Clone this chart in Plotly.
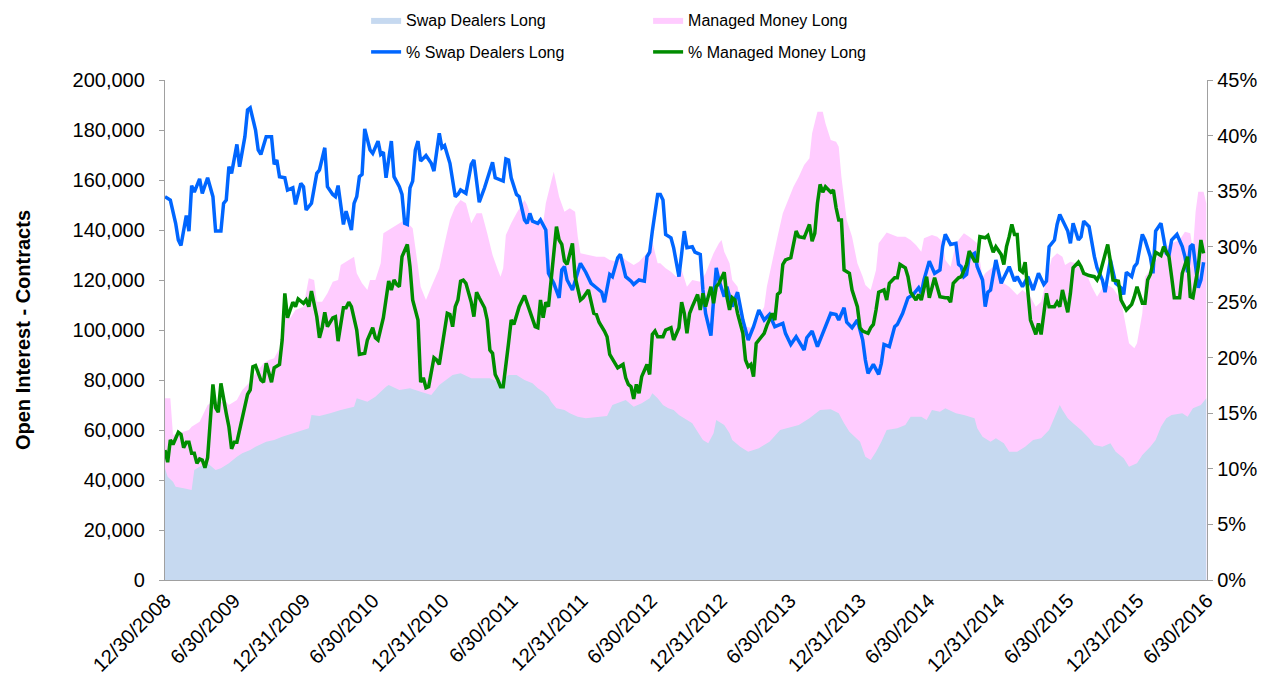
import datetime as dt
import plotly.graph_objects as go

# ---- data (week index from 12/30/2008, value) ----
START = dt.date(2008, 12, 30)

swap_long_k = [
(0,44.7),(1,41.3),(3,39.3),(4,37.3),(7,36.7),(10,36.0),(11,44.0),(13,45.3),(16,46.7),(19,44.0),(21,44.7),(24,46.7),(27,49.3),(29,50.7),(32,52.0),(34,53.3),(38,55.3),(41,56.0),(44,57.3),(48,58.7),(52,60.0),(54,60.7),(55,66.0),(58,65.6),(62,66.7),(66,68.0),(71,69.3),(72,72.7),(76,71.3),(79,73.3),(83,77.3),(84,78.0),(88,76.0),(92,76.7),(96,75.3),(100,74.0),(103,78.0),(108,82.0),(111,82.7),(115,80.7),(118,80.7),(122,80.7),(125,79.3),(126,79.3),(129,82.0),(132,82.0),(135,80.0),(138,78.7),(140,76.7),(142,75.3),(144,73.3),(145,71.3),(147,68.7),(150,68.0),(152,66.7),(155,65.3),(158,64.7),(162,65.1),(166,65.6),(168,70.0),(171,71.3),(173,72.0),(176,69.3),(179,70.7),(182,72.7),(183,74.7),(185,72.7),(187,70.0),(189,68.7),(191,68.0),(193,66.0),(196,64.0),(198,62.7),(200,59.3),(202,56.0),(204,54.7),(206,58.7),(207,64.0),(210,62.0),(212,58.7),(213,56.0),(216,53.3),(219,51.3),(223,52.7),(227,55.3),(231,60.0),(235,61.3),(238,62.0),(242,64.7),(246,68.0),(250,68.3),(253,66.7),(255,62.7),(257,59.3),(259,57.3),(261,55.3),(263,49.3),(265,48.0),(267,51.3),(269,55.3),(271,60.0),(275,60.7),(278,62.0),(280,65.3),(284,65.3),(286,64.0),(288,68.0),(291,67.3),(293,68.7),(297,66.7),(300,66.0),(304,64.7),(305,60.7),(307,57.3),(310,55.3),(312,56.7),(315,54.7),(317,51.3),(320,51.3),(323,53.3),(326,56.0),(329,56.7),(332,60.0),(334,64.7),(336,70.0),(337,68.0),(339,64.7),(341,62.7),(344,60.0),(347,56.7),(349,54.0),(352,53.3),(355,54.7),(357,51.3),(360,48.7),(362,45.3),(365,46.7),(367,50.0),(370,53.3),(372,56.0),(374,61.3),(376,64.7),(378,66.0),(382,66.7),(384,65.3),(386,68.7),(389,70.0),(391,72.7)]

# top of the managed-money band (thousand contracts)
managed_long_top_k = [
(0,72.7),(2,72.7),(3,58.0),(9,60.0),(10,61.3),(13,63.3),(16,70.0),(18,71.3),(23,71.3),(24,70.0),(27,72.0),(29,76.0),(32,79.3),(34,82.7),(37,86.7),(39,88.0),(41,88.7),(43,92.7),(44,101.3),(45,106.7),(47,104.7),(49,108.0),(52,109.3),(54,120.7),(56,120.0),(57,111.3),(59,111.3),(61,114.7),(63,119.3),(65,120.0),(66,126.0),(68,127.3),(71,129.3),(72,122.7),(74,118.7),(76,116.0),(77,120.0),(79,120.0),(81,126.7),(82,138.7),(84,140.0),(88,142.7),(90,144.0),(93,140.7),(94,132.0),(95,125.3),(96,117.3),(98,112.0),(100,117.3),(101,120.0),(103,124.7),(105,134.7),(107,144.0),(109,149.3),(111,152.0),(113,150.7),(115,142.7),(117,146.7),(119,146.7),(121,138.7),(123,130.0),(125,124.0),(126,121.3),(127,124.7),(128,138.0),(130,142.7),(132,146.7),(135,152.0),(136,150.0),(138,144.0),(140,142.7),(142,142.7),(143,150.7),(145,159.3),(146,163.3),(148,153.3),(150,147.3),(152,148.7),(154,147.3),(155,137.3),(156,130.7),(159,130.0),(162,129.3),(165,129.3),(167,128.0),(170,127.3),(171,130.0),(173,128.0),(176,126.0),(178,127.3),(181,130.7),(183,135.3),(185,126.7),(186,126.7),(188,124.7),(190,123.3),(192,121.3),(194,124.0),(196,117.3),(198,120.0),(201,119.3),(203,122.7),(206,130.7),(208,134.7),(209,136.0),(210,131.3),(212,126.7),(213,120.0),(215,117.3),(217,106.7),(218,101.3),(221,100.7),(223,105.3),(225,109.3),(226,117.3),(228,128.0),(230,137.3),(232,146.7),(234,152.0),(236,157.3),(238,161.3),(240,166.0),(242,168.7),(243,178.7),(245,187.3),(247,187.3),(248,182.7),(250,176.0),(252,175.3),(253,173.3),(254,161.3),(256,144.0),(258,137.3),(260,126.7),(262,121.3),(263,118.0),(265,116.0),(267,124.0),(268,134.7),(270,137.3),(271,139.0),(275,137.3),(278,137.3),(280,136.0),(282,134.0),(284,131.3),(285,136.7),(288,138.0),(290,137.3),(292,135.3),(293,128.0),(295,125.3),(297,134.7),(300,138.7),(302,137.3),(305,134.7),(307,121.0),(308,122.7),(311,125.3),(313,124.0),(315,118.7),(317,117.3),(320,114.0),(322,116.0),(325,113.3),(327,109.3),(329,111.3),(331,120.0),(333,128.7),(335,130.7),(337,129.3),(338,126.0),(340,127.3),(342,126.7),(344,124.0),(346,122.7),(348,117.3),(350,113.3),(352,116.7),(354,118.0),(356,116.7),(359,112.0),(360,106.7),(362,94.7),(364,92.7),(365,94.7),(367,106.7),(368,121.3),(371,125.3),(374,132.0),(376,133.3),(378,134.7),(381,136.0),(383,139.3),(385,138.7),(386,132.0),(387,147.3),(388,155.3),(390,155.3),(391,150.7)]

pct_swap_long = [
(0,34.5),(2,34.2),(4,32.1),(5,30.6),(6,30.1),(8,32.8),(9,31.4),(10,35.5),(11,34.9),(13,36.1),(14,34.8),(16,36.2),(18,34.5),(19,31.4),(21,31.4),(22,33.9),(23,34.2),(24,37.2),(25,36.6),(27,39.2),(28,37.2),(30,39.9),(31,42.3),(32,42.5),(34,40.5),(35,38.7),(36,38.3),(38,39.9),(40,39.9),(41,37.4),(42,37.8),(43,36.3),(45,36.2),(46,35.1),(48,35.3),(49,33.8),(51,35.7),(52,35.4),(53,33.3),(55,33.9),(57,36.6),(58,36.9),(60,38.9),(61,35.4),(63,34.7),(64,34.5),(65,35.5),(67,32.0),(68,33.2),(70,31.5),(71,33.9),(72,34.5),(73,36.3),(74,36.5),(75,40.6),(77,38.7),(78,38.4),(80,39.5),(81,38.3),(82,38.5),(83,36.2),(85,39.5),(86,36.3),(88,35.4),(89,34.7),(90,32.1),(91,32.0),(92,35.3),(93,35.9),(94,38.7),(95,39.5),(96,37.7),(98,38.2),(100,37.5),(101,36.8),(103,40.2),(104,38.9),(105,39.1),(107,37.5),(109,34.5),(110,34.7),(111,35.1),(113,34.8),(115,37.4),(116,37.8),(118,34.0),(120,35.3),(121,36.0),(123,37.6),(124,36.2),(126,36.0),(127,35.9),(128,37.9),(129,37.8),(130,36.2),(132,34.7),(133,34.5),(135,32.4),(136,32.1),(137,33.0),(138,32.3),(140,32.1),(141,32.4),(143,31.5),(144,27.6),(146,26.7),(148,25.4),(149,27.9),(150,28.2),(151,27.0),(153,26.1),(155,27.6),(156,28.5),(158,27.7),(160,26.7),(162,26.3),(164,25.9),(165,25.0),(167,27.5),(168,27.3),(170,29.0),(171,29.3),(173,27.3),(175,26.9),(176,26.6),(178,27.0),(180,26.9),(181,29.1),(182,29.5),(183,31.4),(185,34.7),(186,34.7),(187,34.2),(188,31.1),(190,30.8),(191,29.9),(193,27.3),(195,31.4),(196,29.9),(198,30.0),(199,29.5),(201,29.3),(202,26.1),(203,24.0),(205,22.0),(206,25.2),(207,28.1),(208,27.0),(210,25.5),(211,26.4),(213,24.6),(215,25.9),(217,23.4),(219,21.6),(221,22.8),(223,24.3),(225,23.4),(227,23.9),(229,22.8),(232,23.1),(233,22.2),(235,21.2),(237,21.9),(238,21.5),(240,20.7),(241,21.8),(243,22.4),(245,21.0),(247,22.2),(248,22.8),(250,24.0),(252,23.9),(253,23.4),(255,24.5),(256,23.2),(258,22.7),(260,23.4),(262,21.6),(263,19.8),(264,18.6),(266,19.4),(268,18.5),(269,19.5),(270,21.2),(272,21.0),(274,22.8),(275,23.0),(277,24.0),(278,24.6),(279,25.4),(281,25.7),(283,26.3),(284,25.8),(285,27.0),(287,28.7),(288,28.2),(289,27.6),(291,27.9),(292,30.0),(293,31.1),(295,30.2),(297,30.3),(298,28.4),(299,28.2),(300,27.3),(301,27.5),(302,29.1),(304,29.4),(305,28.2),(307,27.0),(308,24.6),(309,25.9),(310,26.1),(312,28.8),(313,27.9),(314,26.7),(317,28.2),(319,26.9),(320,27.3),(322,26.4),(324,27.3),(326,26.1),(328,27.6),(330,26.6),(331,26.9),(332,30.0),(334,30.6),(335,32.0),(336,32.9),(338,31.8),(339,31.4),(340,30.3),(341,32.1),(343,30.6),(344,30.9),(345,32.3),(347,31.8),(349,29.1),(350,28.1),(352,27.0),(353,25.9),(355,28.8),(357,26.7),(359,26.3),(360,25.7),(361,27.7),(363,27.3),(364,28.2),(365,28.5),(367,31.1),(368,30.6),(370,29.1),(371,27.6),(372,31.4),(374,32.1),(376,29.4),(377,29.2),(378,30.6),(380,31.1),(382,30.0),(383,29.1),(384,27.7),(385,30.0),(386,30.2),(388,26.3),(389,27.0),(390,28.6)]

pct_managed_long = [
(0,11.7),(1,10.6),(2,12.6),(3,12.2),(5,13.3),(6,13.1),(7,11.9),(8,12.4),(9,12.4),(10,11.4),(11,11.4),(12,10.5),(13,10.9),(14,10.8),(15,10.1),(16,11.0),(18,17.6),(19,15.5),(20,15.1),(21,17.7),(23,15.0),(24,13.8),(25,11.8),(26,12.4),(27,12.4),(28,13.5),(29,14.7),(31,16.7),(32,17.1),(33,19.2),(34,19.3),(36,18.0),(37,17.8),(38,19.5),(40,17.8),(41,19.1),(43,19.4),(44,21.6),(45,25.8),(46,23.6),(47,24.3),(48,25.0),(49,24.6),(50,25.3),(52,24.9),(53,25.2),(54,24.6),(55,26.0),(57,23.7),(58,21.8),(59,22.7),(60,24.1),(61,22.8),(63,23.6),(64,23.7),(65,21.5),(67,24.5),(68,24.5),(69,25.0),(70,24.6),(72,22.5),(73,20.3),(75,20.4),(76,21.6),(78,22.7),(79,21.8),(80,21.6),(82,23.6),(84,26.9),(85,26.1),(86,27.0),(87,26.6),(88,26.4),(89,29.1),(91,30.2),(92,28.2),(93,25.2),(95,23.4),(96,17.8),(97,18.2),(98,17.3),(99,17.4),(101,20.0),(102,19.8),(103,19.4),(104,21.0),(105,22.2),(106,24.0),(107,23.9),(108,22.8),(109,24.6),(110,25.2),(111,26.9),(112,27.0),(113,26.7),(115,25.0),(116,23.7),(117,25.9),(118,25.4),(120,24.5),(121,23.4),(122,20.7),(123,20.4),(124,18.5),(125,18.0),(126,17.4),(127,17.4),(128,19.2),(129,21.3),(130,23.4),(131,23.0),(133,24.6),(135,25.6),(136,24.9),(138,23.6),(139,22.8),(140,22.7),(141,25.2),(142,23.6),(143,25.0),(144,24.6),(145,27.0),(147,31.8),(148,30.6),(149,30.2),(150,28.7),(151,28.4),(153,30.3),(154,27.3),(156,25.2),(157,25.4),(159,26.1),(160,25.2),(161,24.0),(162,23.9),(163,23.2),(165,22.4),(166,21.9),(167,20.3),(169,19.4),(170,19.1),(172,19.4),(173,18.2),(174,17.6),(175,17.4),(176,16.3),(177,17.6),(178,16.8),(179,18.3),(181,19.4),(182,18.5),(183,22.1),(184,22.4),(185,21.9),(187,21.9),(188,22.5),(190,22.7),(191,21.6),(193,22.7),(194,25.0),(195,24.0),(196,22.2),(197,24.0),(198,24.6),(200,25.7),(201,24.3),(202,25.8),(203,24.6),(205,26.4),(206,24.9),(207,26.4),(208,26.7),(210,27.7),(211,25.5),(212,24.3),(213,25.4),(214,25.2),(215,24.0),(217,22.2),(218,19.8),(219,19.2),(220,19.4),(221,18.3),(222,21.3),(224,21.9),(225,22.2),(226,22.9),(228,24.0),(229,23.4),(230,25.7),(231,25.9),(232,28.4),(233,28.8),(235,29.0),(237,31.4),(238,30.9),(240,30.8),(242,32.0),(243,30.5),(244,31.2),(245,33.9),(246,35.6),(247,34.9),(248,35.4),(250,34.9),(251,35.1),(252,33.5),(253,32.4),(254,32.4),(255,27.9),(257,27.6),(258,26.1),(260,24.6),(261,22.7),(262,22.4),(264,22.2),(265,22.7),(266,23.0),(267,24.3),(268,25.9),(270,26.1),(271,25.2),(272,26.7),(274,27.2),(275,27.2),(276,28.4),(278,28.1),(279,27.3),(280,25.9),(282,25.2),(283,25.7),(284,25.2),(286,27.3),(287,25.4),(289,27.2),(291,25.5),(293,25.4),(294,25.4),(295,25.0),(296,26.7),(298,27.2),(299,27.3),(301,28.4),(302,29.6),(304,28.7),(305,28.7),(306,30.9),(308,30.8),(309,31.0),(310,30.3),(311,29.5),(312,30.0),(314,29.3),(315,28.4),(316,30.0),(317,30.9),(318,32.0),(319,31.1),(320,31.1),(321,27.9),(322,27.7),(323,28.6),(324,26.1),(325,23.4),(327,22.1),(328,23.1),(329,22.1),(330,24.0),(331,25.8),(332,24.6),(334,24.6),(335,25.0),(336,24.6),(337,26.1),(338,25.0),(339,24.1),(340,25.8),(341,28.1),(343,28.6),(344,28.2),(345,27.6),(347,27.4),(349,27.3),(350,27.0),(351,27.5),(352,28.4),(354,30.2),(355,28.7),(356,27.0),(358,26.9),(359,25.2),(361,24.3),(363,24.8),(364,25.5),(365,26.4),(367,24.9),(368,24.9),(369,27.0),(370,27.5),(372,29.5),(374,29.2),(375,30.0),(377,29.1),(378,27.3),(379,25.4),(381,25.4),(382,27.6),(384,29.1),(385,25.5),(386,25.4),(388,28.2),(389,30.6),(390,29.4)]

tick_dates = ["2008-12-30", "2009-06-30", "2009-12-31", "2010-06-30", "2010-12-31",
              "2011-06-30", "2011-12-31", "2012-06-30", "2012-12-31", "2013-06-30",
              "2013-12-31", "2014-06-30", "2014-12-31", "2015-06-30", "2015-12-31",
              "2016-06-30"]
tick_text = ["12/30/2008", "6/30/2009", "12/31/2009", "6/30/2010", "12/31/2010",
             "6/30/2011", "12/31/2011", "6/30/2012", "12/31/2012", "6/30/2013",
             "12/31/2013", "6/30/2014", "12/31/2014", "6/30/2015", "12/31/2015",
             "6/30/2016"]


def split(pts, scale=1.0):
    xs = [START + dt.timedelta(days=7 * w) for w, _ in pts]
    ys = [v * scale for _, v in pts]
    return xs, ys


FONT = "Liberation Sans, Arial, sans-serif"
AXIS_COL = "#A0A0A0"

fig = go.Figure()

x, y = split(managed_long_top_k, 1000)
fig.add_trace(go.Scatter(x=x, y=y, name="Managed Money Long", mode="lines",
                         line=dict(width=0, color="#FFCCFF"), fill="tozeroy",
                         fillcolor="#FFCCFF", legend="legend", legendrank=2))
x, y = split(swap_long_k, 1000)
fig.add_trace(go.Scatter(x=x, y=y, name="Swap Dealers Long", mode="lines",
                         line=dict(width=0, color="#C6D9F0"), fill="tozeroy",
                         fillcolor="#C6D9F0", legend="legend", legendrank=1))
x, y = split(pct_swap_long)
fig.add_trace(go.Scatter(x=x, y=y, name="% Swap Dealers Long", mode="lines",
                         line=dict(width=3.5, color="#0066FF"), yaxis="y2",
                         legend="legend2", legendrank=1))
x, y = split(pct_managed_long)
fig.add_trace(go.Scatter(x=x, y=y, name="% Managed Money Long", mode="lines",
                         line=dict(width=3.5, color="#008C00"), yaxis="y2",
                         legend="legend2", legendrank=2))

leg_common = dict(orientation="h", xanchor="left", yanchor="middle",
                  font=dict(family=FONT, size=16, color="#000000"),
                  entrywidth=237, entrywidthmode="pixels",
                  bgcolor="rgba(0,0,0,0)", traceorder="normal")

fig.update_layout(
    width=1279, height=686,
    margin=dict(l=157, r=80, t=72, b=114, autoexpand=False),
    paper_bgcolor="white", plot_bgcolor="white",
    font=dict(family=FONT, size=20, color="#000000"),
    legend=dict(x=0.193, y=1.12, **leg_common),
    legend2=dict(x=0.193, y=1.056, **leg_common),
    xaxis=dict(type="date", range=["2008-12-30", "2016-06-30"],
               tickmode="array", tickvals=tick_dates, ticktext=tick_text,
               tickangle=-45, showgrid=False, zeroline=False,
               showline=True, linecolor=AXIS_COL, linewidth=1.3,
               ticks="", tickfont=dict(size=20), automargin=False),
    yaxis=dict(range=[0, 200000], dtick=20000, tickformat=",", showgrid=False,
               zeroline=False, showline=True, linecolor=AXIS_COL, linewidth=1.3,
               ticks="outside", ticklen=5, tickcolor=AXIS_COL,
               ticklabelstandoff=10, tickfont=dict(size=20),
               title=dict(text="Open Interest - Contracts", standoff=36,
                          font=dict(size=20, weight="bold")),
               automargin=False),
    yaxis2=dict(range=[0, 45], dtick=5, ticksuffix="%", overlaying="y",
                side="right", showgrid=False, zeroline=False, showline=True,
                linecolor=AXIS_COL, linewidth=1.3, ticks="outside", ticklen=5,
                tickcolor=AXIS_COL, tickfont=dict(size=20), automargin=False),
)

fig.write_html("out.html")
